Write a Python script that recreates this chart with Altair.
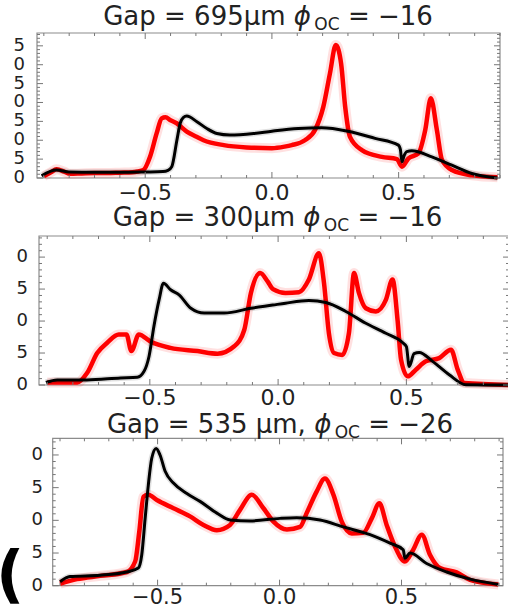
import altair as alt
import pandas as pd

FONT = "DejaVu Sans"

# ---------------- data ----------------
# Panel 1: Gap = 695 um, phi_OC = -16
p1_red_x = [-0.90, -0.87, -0.85, -0.82, -0.797, -0.75, -0.70, -0.65, -0.60, -0.55, -0.53, -0.507,
            -0.481, -0.455, -0.435, -0.42, -0.40, -0.376, -0.336, -0.30, -0.27, -0.19, -0.10, 0.0,
            0.05, 0.078, 0.13, 0.17, 0.203, 0.229, 0.252, 0.273, 0.289, 0.308, 0.355, 0.434, 0.493,
            0.513, 0.539, 0.578, 0.605, 0.627, 0.651, 0.671, 0.71, 0.789, 0.89]
p1_red_y = [0.5, 1.6, 2.3, 1.7, 1.1, 1.2, 1.3, 1.3, 1.4, 1.5, 1.7, 2.1,
            5.6, 11.8, 15.8, 16.1, 15.3, 14.5, 12.3, 11.0, 10.0, 8.7, 8.1, 7.9,
            8.3, 8.7, 10.0, 12.7, 18.9, 27.7, 35.2, 30.3, 18.9, 10.9, 7.4, 5.6, 5.0,
            3.0, 5.2, 6.5, 12.7, 21.1, 12.7, 4.8, 2.1, 0.7, 0.2]
p1_blk_x = [-0.909, -0.85, -0.80, -0.70, -0.60, -0.50, -0.43, -0.41, -0.395, -0.375, -0.362,
            -0.35, -0.336, -0.296, -0.257, -0.217, -0.166, -0.072, 0.0, 0.104, 0.196, 0.30,
            0.407, 0.499, 0.507, 0.513, 0.522, 0.532, 0.552, 0.631, 0.71, 0.789, 0.89]
p1_blk_y = [0.6, 2.1, 1.6, 1.5, 1.5, 1.6, 1.7, 2.0, 3.0, 10.0, 14.5,
            16.0, 16.4, 14.9, 13.1, 11.8, 11.4, 11.8, 12.4, 13.1, 13.3, 12.4,
            10.5, 8.7, 7.5, 4.3, 6.0, 7.0, 7.2, 5.6, 3.4, 1.2, 0.0]

# Panel 2: Gap = 300 um, phi_OC = -16
p2_red_x = [-0.90, -0.783, -0.744, -0.705, -0.666, -0.621, -0.591, -0.572, -0.543, -0.498, -0.42,
            -0.314, -0.236, -0.171, -0.132, -0.106, -0.07, -0.041, -0.02, 0.029, 0.081, 0.12,
            0.159, 0.179, 0.198, 0.218, 0.25, 0.276, 0.296, 0.315, 0.342, 0.381, 0.42, 0.446,
            0.466, 0.479, 0.505, 0.537, 0.576, 0.628, 0.674, 0.70, 0.726, 0.90]
p2_red_y = [0.4, 0.4, 1.9, 5.0, 6.6, 7.9, 7.9, 5.3, 7.9, 6.8, 5.8,
            5.3, 4.9, 6.05, 8.6, 14.4, 17.5, 16.2, 15.0, 14.4, 14.5, 16.5,
            20.6, 15.9, 8.1, 5.0, 4.7, 8.1, 17.5, 14.4, 12.0, 11.5, 13.3, 16.5,
            10.0, 4.0, 1.35, 2.4, 3.7, 4.2, 5.5, 2.4, 0.3, 0.0]
p2_blk_x = [-0.905, -0.861, -0.744, -0.614, -0.549, -0.523, -0.503, -0.484, -0.464, -0.447,
            -0.419, -0.386, -0.34, -0.288, -0.21, -0.106, -0.021, 0.029, 0.12, 0.186, 0.264,
            0.34, 0.42, 0.486, 0.50, 0.511, 0.53, 0.55, 0.602, 0.667, 0.732, 0.90]
p2_blk_y = [0.4, 0.8, 0.8, 1.1, 1.2, 2.1, 4.5, 9.2, 13.3, 15.9,
            14.9, 14.1, 12.0, 11.25, 11.25, 12.0, 12.5, 12.8, 13.2, 12.9, 11.5,
            9.7, 8.1, 6.6, 6.0, 2.9, 4.9, 5.1, 3.7, 1.6, 0.05, 0.0]

# Panel 3: Gap = 535 um, phi_OC = -26
p3_red_x = [-0.90, -0.831, -0.736, -0.626, -0.592, -0.575, -0.558, -0.538, -0.503, -0.435, -0.367,
            -0.312, -0.257, -0.203, -0.162, -0.114, -0.066, -0.025, 0.03, 0.084, 0.111, 0.152,
            0.186, 0.221, 0.255, 0.296, 0.343, 0.378, 0.409, 0.439, 0.473, 0.514, 0.548, 0.583,
            0.617, 0.658, 0.726, 0.781, 0.897]
p3_red_y = [0.3, 1.0, 1.5, 2.1, 3.7, 8.3, 13.6, 13.9, 13.1, 11.85, 10.6,
            9.3, 8.5, 9.3, 11.6, 13.9, 11.85, 9.8, 8.6, 9.0, 11.1, 14.4,
            16.4, 13.9, 9.8, 8.0, 8.1, 10.3, 12.6, 9.3, 6.0, 3.7, 5.5, 7.8,
            4.7, 2.7, 2.05, 0.9, 0.2]
p3_blk_x = [-0.90, -0.859, -0.736, -0.626, -0.579, -0.565, -0.551, -0.538, -0.524, -0.506, -0.49,
            -0.469, -0.435, -0.38, -0.326, -0.257, -0.203, -0.121, 0.002, 0.07, 0.166, 0.261,
            0.371, 0.453, 0.507, 0.514, 0.535, 0.603, 0.685, 0.781, 0.897]
p3_blk_y = [0.6, 1.4, 1.6, 2.1, 2.7, 4.7, 10.3, 15.4, 19.5, 21.0, 20.0,
            17.5, 15.7, 14.1, 12.9, 11.1, 10.06, 9.9, 10.3, 10.4, 10.06, 9.0,
            7.8, 6.5, 5.5, 4.2, 5.0, 3.4, 2.1, 1.0, 0.2]

x_label_values = [-0.5, 0.0, 0.5]
p1_y_labels = [0, 5, 10, 15, 20, 25, 30, 35]
p2_y_labels = [0, 5, 10, 15, 20]
p3_y_labels = [0, 5, 10, 15, 20]
x_minor_ticks = [-0.9, -0.8, -0.7, -0.6, -0.4, -0.3, -0.2, -0.1, 0.1, 0.2, 0.3, 0.4, 0.6, 0.7, 0.8, 0.9]

titles = [
    ("Gap = 695\u03bcm", "\u03d5", "OC", "= \u221216"),
    ("Gap = 300\u03bcm", "\u03d5", "OC", "= \u221216"),
    ("Gap = 535 \u03bcm,", "\u03d5", "OC", "= \u221226"),
]

# ---------------- layout (page pixels) ----------------
W, H = 508, 610
EM = {' ': 0.318, 'G': 0.775, 'a': 0.613, 'p': 0.635, '=': 0.838, 'μ': 0.636, 'm': 0.974,
      ',': 0.318, 'O': 0.787, 'C': 0.698, '\u2212': 0.838, '\u03d5': 0.75}


def text_w(s, fs):
    return sum(EM.get(c, 0.636) for c in s) * fs


def panel(rx, ry, bx, by, xdom, ydom, ylabels, box, ylab_right, xlab_base, xlab_fs,
          title, tcenter, tbase):
    L, R, T, B = box
    xs = alt.Scale(domain=xdom, range=[L, R], nice=False, zero=False)
    ys = alt.Scale(domain=ydom, range=[B, T], nice=False, zero=False)
    X = lambda f: alt.X(f, scale=xs, axis=None)
    Y = lambda f: alt.Y(f, scale=ys, axis=None)

    red = pd.DataFrame({"x": rx, "y": ry})
    blk = pd.DataFrame({"x": bx, "y": by})
    frame = pd.DataFrame({"x": [xdom[0]], "x2": [xdom[1]], "y": [ydom[0]], "y2": [ydom[1]]})

    layers = []
    layers.append(alt.Chart(frame).mark_rect(fillOpacity=0, stroke="#8c8c8c", strokeWidth=1.2)
                  .encode(x=X("x:Q"), x2="x2:Q", y=Y("y:Q"), y2="y2:Q"))

    def line(df, color, width, opacity):
        return alt.Chart(df).mark_line(color=color, strokeWidth=width, opacity=opacity,
                                       interpolate="monotone").encode(x=X("x:Q"), y=Y("y:Q"))

    layers += [line(red, "#ff0000", 10, 0.12), line(red, "#ff0000", 4.5, 1.0),
               line(blk, "#000000", 6, 0.12), line(blk, "#000000", 3, 1.0)]

    tick_col = "#777777"

    def xticks(vals, ln):
        d = pd.DataFrame({"v": vals})
        return [alt.Chart(d).mark_rule(color=tick_col, strokeWidth=1).encode(
                    x=X("v:Q"), y=alt.value(T), y2=alt.value(T + ln)),
                alt.Chart(d).mark_rule(color=tick_col, strokeWidth=1).encode(
                    x=X("v:Q"), y=alt.value(B), y2=alt.value(B - ln))]

    def yticks(vals, ln):
        d = pd.DataFrame({"v": vals})
        return [alt.Chart(d).mark_rule(color=tick_col, strokeWidth=1).encode(
                    y=Y("v:Q"), x=alt.value(L), x2=alt.value(L + ln)),
                alt.Chart(d).mark_rule(color=tick_col, strokeWidth=1).encode(
                    y=Y("v:Q"), x=alt.value(R), x2=alt.value(R - ln))]

    y_minor = [v for v in range(1, int(ydom[1]) + 1) if v % 5 != 0]
    layers += xticks(x_minor_ticks, 3) + xticks(x_label_values, 6)
    layers += yticks(y_minor, 3) + yticks(ylabels, 6)

    # tick labels
    xl = pd.DataFrame({"v": x_label_values})
    layers.append(alt.Chart(xl).mark_text(font=FONT, fontSize=xlab_fs, color="#222",
                                          baseline="alphabetic", align="center")
                  .encode(x=X("v:Q"), y=alt.value(xlab_base), text=alt.Text("v:Q", format=".1f")))
    # the reference is cropped: only the last digit of each y label is visible
    yl = pd.DataFrame({"v": ylabels, "lab": [str(v)[-1] for v in ylabels]})
    layers.append(alt.Chart(yl).mark_text(font=FONT, fontSize=18, color="#222",
                                          baseline="middle", align="right")
                  .encode(y=Y("v:Q"), x=alt.value(ylab_right), text="lab:N"))

    # title (normal text, italic phi, subscript, normal text)
    a, b, c, d = title
    fs, fss = 26, 17
    sp = 0.318 * fs
    wa, wb, wc, wd = text_w(a, fs), text_w(b, fs), text_w(c, fss), text_w(d, fs)
    total = wa + sp + wb + 1 + wc + sp + wd
    x0 = tcenter - total / 2
    parts = [
        (a, x0, tbase, fs, "normal"),
        (b, x0 + wa + sp, tbase, fs, "italic"),
        (c, x0 + wa + sp + wb + 1, tbase + 5, fss, "normal"),
        (d, x0 + wa + sp + wb + 1 + wc + sp, tbase, fs, "normal"),
    ]
    for txt, px, py, f, st in parts:
        layers.append(
            alt.Chart(pd.DataFrame({"s": [txt]})).mark_text(
                align="left", baseline="alphabetic", font=FONT, fontSize=f, fontStyle=st,
                color="#222").encode(text="s:N", x=alt.value(px), y=alt.value(py)))
    return layers


layers = []
layers += panel(p1_red_x, p1_red_y, p1_blk_x, p1_blk_y, [-0.927, 0.9], [0, 38.4], p1_y_labels,
                (37, 500, 33, 178), 25, 200, 22, titles[0], 268, 25)
layers += panel(p2_red_x, p2_red_y, p2_blk_x, p2_blk_y, [-0.932, 0.9], [0, 23.3], p2_y_labels,
                (39, 509, 236, 385), 28, 405, 22, titles[1], 277.5, 226)
layers += panel(p3_red_x, p3_red_y, p3_blk_x, p3_blk_y, [-0.93, 0.916], [0, 22.55], p3_y_labels,
                (52.7, 503, 438.3, 585.7), 43, 604, 21, titles[2], 280, 433)

# cropped panel letter at the lower left
layers.append(alt.Chart(pd.DataFrame({"s": ["("]})).mark_text(
    align="left", baseline="alphabetic", font=FONT, fontSize=62, fontWeight="bold",
    color="#000").encode(text="s:N", x=alt.value(-4), y=alt.value(595)))

chart = alt.layer(*layers).resolve_scale(x="independent", y="independent").properties(
    width=W, height=H, padding=0, autosize=alt.AutoSizeParams(type="none")
).configure_view(strokeOpacity=0)

chart.save("out.html", embed_options={"renderer": "svg", "actions": False})
